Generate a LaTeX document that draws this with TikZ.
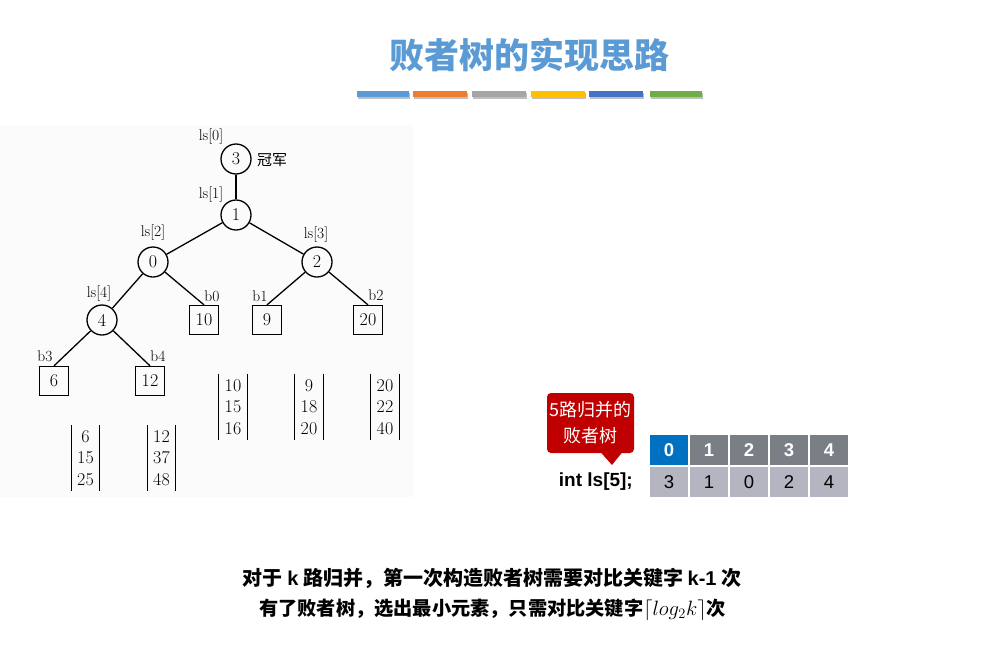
\documentclass[tikz,border=0pt]{standalone}
\usepackage{fontspec}
\newfontfamily\arial{Liberation Sans}
\newfontfamily\cjk{Noto Sans CJK SC}
\definecolor{titleblue}{HTML}{5B9BD5}
\definecolor{barA}{HTML}{5B9BD5}
\definecolor{barB}{HTML}{ED7D31}
\definecolor{barC}{HTML}{A5A5A5}
\definecolor{barD}{HTML}{FFC000}
\definecolor{barE}{HTML}{4472C4}
\definecolor{barF}{HTML}{70AD47}
\definecolor{callred}{HTML}{C00000}
\definecolor{hdrblue}{HTML}{0070C0}
\definecolor{hdrgray}{HTML}{7A7E85}
\definecolor{valgray}{HTML}{B4B5C0}
\definecolor{imgbg}{HTML}{FBFBFB}
\begin{document}
\begin{tikzpicture}[x=1pt,y=-1pt,
  tn/.style={circle,draw,line width=1.3pt,minimum size=30pt,inner sep=0pt,font=\fontsize{18}{18}\selectfont},
  sq/.style={rectangle,draw,line width=1.3pt,minimum size=29pt,inner sep=0pt,font=\fontsize{18}{18}\selectfont},
  lab/.style={inner sep=0pt,font=\fontsize{15.5}{15.5}\selectfont},
  lst/.style={inner sep=0pt,minimum width=28pt,minimum height=66pt,align=center,font=\fontsize{18}{21.5}\selectfont},
  edgeline/.style={line width=1.3pt},
  hcell/.style={rectangle,minimum width=40pt,minimum height=32pt,inner sep=0pt,draw=white,line width=1.2pt,text=white,font=\arial\bfseries\fontsize{18.5}{18.5}\selectfont},
  vcell/.style={rectangle,minimum width=40pt,minimum height=32pt,inner sep=0pt,draw=white,line width=1.2pt,fill=valgray,text=black,font=\arial\fontsize{18.5}{18.5}\selectfont}
]
\useasboundingbox (0,0) rectangle (1008,645);
\fill[white] (0,0) rectangle (1008,645);
% title
\node[inner sep=0pt,text=titleblue,font=\cjk\bfseries\fontsize{35}{35}\selectfont] (title) at (529,55) {败者树的实现思路};
% colour bars
\foreach \xa/\xb/\c in {357/409/barA,413/467/barB,472/526/barC,531/585/barD,589/643/barE,650/702/barF}{
  \fill[black!25] (\xa+1,92.5) rectangle (\xb+1,98.5);
  \fill[\c] (\xa,91) rectangle (\xb,97);
}
% tree image background
\fill[imgbg] (0,125) rectangle (414,497);
% tree nodes
\node[tn] (n3) at (236,159) {3};
\node[tn] (n1) at (236,215) {1};
\node[tn] (n0) at (153,262) {0};
\node[tn] (n2) at (317,262) {2};
\node[tn] (n4) at (102,320) {4};
\node[sq] (s10) at (204,320) {10};
\node[sq] (s9) at (267,320) {9};
\node[sq] (s20) at (368,320) {20};
\node[sq] (s6) at (54,381) {6};
\node[sq] (s12) at (150,381) {12};
% labels
\node[lab] (l0) at (211,137) {ls[0]};
\node[lab] (l1) at (211,195) {ls[1]};
\node[lab] (l2) at (153,233) {ls[2]};
\node[lab] (l3) at (316,235) {ls[3]};
\node[lab] (l4) at (99,294) {ls[4]};
\node[lab] (b0) at (212,296) {b0};
\node[lab] (b1) at (260,296) {b1};
\node[lab] (b2) at (376,295) {b2};
\node[lab] (b3) at (45,356) {b3};
\node[lab] (b4) at (158,356) {b4};
\node[inner sep=0pt,font=\cjk\fontsize{15}{15}\selectfont] (champ) at (272,160) {冠军};
% edges
\draw[edgeline] (n3) -- (n1);
\draw[edgeline] (n1) -- (n0);
\draw[edgeline] (n1) -- (n2);
\draw[edgeline] (n0) -- (n4);
\draw[edgeline] (n0) -- (s10.north);
\draw[edgeline] (n2) -- (s9.north);
\draw[edgeline] (n2) -- (s20.north);
\draw[edgeline] (n4) -- (s6.north);
\draw[edgeline] (n4) -- (s12.north);
% run lists
\node[lst] (r0) at (233,407) {10\\15\\16};
\node[lst] (r1) at (309,407) {9\\18\\20};
\node[lst] (r2) at (385,407) {20\\22\\40};
\node[lst] (r3) at (85.5,458) {6\\15\\25};
\node[lst] (r4) at (161.5,458) {12\\37\\48};
\foreach \r in {r0,r1,r2,r3,r4}{
  \draw[edgeline] (\r.north west) -- (\r.south west) (\r.north east) -- (\r.south east);
}
% callout
\node[rectangle,rounded corners=4pt,fill=callred,minimum width=87pt,minimum height=60pt,inner sep=0pt,
      text=white,align=center,font=\cjk\fontsize{18}{26}\selectfont] (call) at (590.5,423) {5路归并的\\败者树};
\coordinate (tip) at (612,465);
\fill[callred] ([xshift=11pt]call.south) -- (tip) -- ([xshift=31pt]call.south) -- cycle;
% table
\node[hcell,fill=hdrblue] (h0) at (669,450) {0};
\node[hcell,fill=hdrgray] (h1) at (709,450) {1};
\node[hcell,fill=hdrgray] (h2) at (749,450) {2};
\node[hcell,fill=hdrgray] (h3) at (789,450) {3};
\node[hcell,fill=hdrgray] (h4) at (829,450) {4};
\node[vcell] (v0) at (669,482) {3};
\node[vcell] (v1) at (709,482) {1};
\node[vcell] (v2) at (749,482) {0};
\node[vcell] (v3) at (789,482) {2};
\node[vcell] (v4) at (829,482) {4};
\node[inner sep=0pt,anchor=east,font=\arial\bfseries\fontsize{19}{19}\selectfont] (decl) at (633,482) {int ls[5];};
% bottom text
\node[inner sep=0pt,font=\cjk\bfseries\fontsize{20}{20}\selectfont] (line1) at (492,578)
  {对于 {\arial\bfseries k} 路归并，第一次构造败者树需要对比关键字 {\arial\bfseries k-1} 次};
\node[inner sep=0pt,font=\cjk\bfseries\fontsize{19.2}{19.2}\selectfont] (line2) at (492.5,610)
  {有了败者树，选出最小元素，只需对比关键字$\left\lceil log_2k\right\rceil$次};
\end{tikzpicture}
\end{document}
